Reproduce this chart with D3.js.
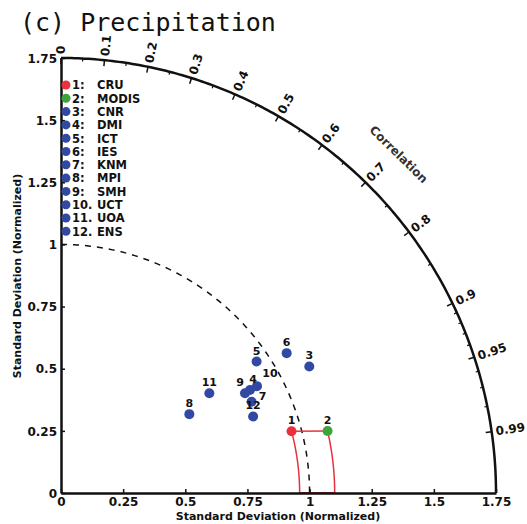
<!DOCTYPE html>
<html>
<head>
<meta charset="utf-8">
<script src="https://cdn.jsdelivr.net/npm/d3@7"></script>
<style>
  html, body { margin: 0; padding: 0; background: #fff; }
  svg { display: block; }
</style>
</head>
<body>
<svg id="chart" width="527" height="524"></svg>
<script>
// Taylor diagram: normalized standard deviation (radius) vs. correlation (angle)
const labels   = ["1","2","3","4","5","6","7","8","9","10","11","12"];
const names    = ["CRU","MODIS","CNR","DMI","ICT","IES","KNM","MPI","SMH","UCT","UOA","ENS"];
const stdDev   = [0.960, 1.101, 1.121, 0.866, 0.948, 1.068, 0.850, 0.606, 0.842, 0.898, 0.719, 0.832];
const corr     = [0.966, 0.974, 0.891, 0.878, 0.830, 0.850, 0.902, 0.852, 0.879, 0.878, 0.830, 0.929];
const groups   = ["obs1","obs2","rcm","rcm","rcm","rcm","rcm","rcm","rcm","rcm","rcm","rcm"];
const stdTicks  = [0, 0.25, 0.5, 0.75, 1, 1.25, 1.5, 1.75];
const stdTickLabels = ["0", "0.25", "0.5", "0.75", "1", "1.25", "1.5", "1.75"];
const corrTicks = [0, 0.1, 0.2, 0.3, 0.4, 0.5, 0.6, 0.7, 0.8, 0.9, 0.95, 0.99];
const corrMinor = [0.05, 0.15, 0.25, 0.35, 0.45, 0.55, 0.65, 0.75, 0.85, 0.91, 0.92, 0.93, 0.94, 0.96, 0.97, 0.98];

const colors = { obs1: "#e8313c", obs2: "#3da33f", rcm: "#3249a3" };
const maxStd = 1.75;

const svg = d3.select("#chart");
const x = d3.scaleLinear().domain([0, maxStd]).range([61, 496]);
const y = d3.scaleLinear().domain([0, maxStd]).range([493, 58]);
const unit = x(1) - x(0);

const polar = (s, c) => [x(s * c), y(s * Math.sqrt(Math.max(0, 1 - c * c)))];
const arcPath = (r, c0, c1, n = 120) => {
  const a0 = Math.acos(c0), a1 = Math.acos(c1);
  const pts = d3.range(n + 1).map(i => {
    const a = a0 + (a1 - a0) * i / n;
    return [x(r * Math.cos(a)), y(r * Math.sin(a))];
  });
  return d3.line()(pts);
};

// Title
svg.append("text")
  .attr("x", 20).attr("y", 31)
  .attr("font-family", "DejaVu Sans Mono").attr("font-size", 25)
  .attr("fill", "#111")
  .text("(c) Precipitation");

// Reference standard deviation (dashed quarter circle at 1)
svg.append("path")
  .attr("d", arcPath(1, 0, 1))
  .attr("fill", "none").attr("stroke", "#111")
  .attr("stroke-width", 1.5).attr("stroke-dasharray", "6,6");

// Observational range: arcs of each observation's std down to the x axis
const obsPts = [0, 1].map(i => polar(stdDev[i], corr[i]));
[0, 1].forEach(i => {
  svg.append("path")
    .attr("d", arcPath(stdDev[i], corr[i], 1, 40))
    .attr("fill", "none").attr("stroke", colors.obs1).attr("stroke-width", 1.5);
});
svg.append("path")
  .attr("d", d3.line()([obsPts[0], obsPts[1]]))
  .attr("fill", "none").attr("stroke", colors.obs1).attr("stroke-width", 1.5);
svg.append("path")
  .attr("d", d3.line()([[x(stdDev[0]), y(0)], [x(stdDev[1]), y(0)]]))
  .attr("fill", "none").attr("stroke", colors.obs1).attr("stroke-width", 2);

// Axes
const fmt = d => stdTickLabels[stdTicks.indexOf(d)];
const xAxis = svg.append("g")
  .attr("transform", `translate(0,${y(0)})`)
  .call(d3.axisBottom(x).tickValues(stdTicks).tickFormat(fmt).tickSizeInner(-4).tickSizeOuter(0).tickPadding(6));
const yAxis = svg.append("g")
  .attr("transform", `translate(${x(0)},0)`)
  .call(d3.axisLeft(y).tickValues(stdTicks).tickFormat(fmt).tickSizeInner(-4).tickSizeOuter(0).tickPadding(4));
[xAxis, yAxis].forEach(g => {
  g.select(".domain").attr("stroke", "#111").attr("stroke-width", 2.5);
  g.selectAll(".tick line").attr("stroke", "#111").attr("stroke-width", 1.5);
  g.selectAll(".tick text")
    .attr("font-family", "DejaVu Sans").attr("font-weight", "bold")
    .attr("font-size", 12).attr("fill", "#111");
});
xAxis.selectAll(".tick text").attr("dy", "0.6em");
yAxis.selectAll(".tick text").attr("dy", "0.35em");

// Outer arc at maximum std
svg.append("path")
  .attr("d", arcPath(maxStd, 0, 1, 200))
  .attr("fill", "none").attr("stroke", "#111").attr("stroke-width", 2.5);

// Correlation ticks and labels
const rpx = maxStd * unit;
corrTicks.forEach(c => {
  const a = Math.acos(c);
  const [x0, y0] = [x(0) + rpx * Math.cos(a), y(0) - rpx * Math.sin(a)];
  svg.append("line")
    .attr("x1", x0).attr("y1", y0)
    .attr("x2", x0 - 6 * Math.cos(a)).attr("y2", y0 + 6 * Math.sin(a))
    .attr("stroke", "#111").attr("stroke-width", 1.5);
  const lx = x(0) + (rpx + 4) * Math.cos(a), ly = y(0) - (rpx + 4) * Math.sin(a);
  svg.append("text")
    .attr("transform", `translate(${lx},${ly}) rotate(${-a * 180 / Math.PI})`)
    .attr("dy", "0.35em")
    .attr("font-family", "DejaVu Sans").attr("font-weight", "bold")
    .attr("font-size", 12).attr("fill", "#111")
    .text(String(c));
});
corrMinor.forEach(c => {
  const a = Math.acos(c);
  const [x0, y0] = [x(0) + rpx * Math.cos(a), y(0) - rpx * Math.sin(a)];
  svg.append("line")
    .attr("x1", x0).attr("y1", y0)
    .attr("x2", x0 - 3 * Math.cos(a)).attr("y2", y0 + 3 * Math.sin(a))
    .attr("stroke", "#111").attr("stroke-width", 1.2);
});

// "Correlation" caption along the arc
{
  const a = Math.acos(0.70), r = 1.93 * unit;
  const cx = x(0) + r * Math.cos(a) + 2, cy = y(0) - r * Math.sin(a) + 4;
  svg.append("text")
    .attr("transform", `translate(${cx},${cy}) rotate(${90 - a * 180 / Math.PI})`)
    .attr("text-anchor", "middle").attr("dy", "0.35em")
    .attr("font-family", "DejaVu Sans").attr("font-weight", "bold")
    .attr("font-size", 12).attr("fill", "#333")
    .text("Correlation");
}

// Axis titles
svg.append("text")
  .attr("x", 278).attr("y", 520).attr("text-anchor", "middle")
  .attr("font-family", "DejaVu Sans").attr("font-weight", "bold")
  .attr("font-size", 11).attr("fill", "#111")
  .text("Standard Deviation (Normalized)");
svg.append("text")
  .attr("transform", "translate(21,276) rotate(-90)").attr("text-anchor", "middle")
  .attr("font-family", "DejaVu Sans").attr("font-weight", "bold")
  .attr("font-size", 11).attr("fill", "#111")
  .text("Standard Deviation (Normalized)");

// Points with number labels (a few nudged apart in the crowded cluster)
const nudge = { "4": [3, 0], "9": [-5, 0], "10": [13, -2], "7": [11, 5] };
const pts = labels.map((l, i) => ({ l, g: groups[i], p: polar(stdDev[i], corr[i]) }));
svg.append("g").selectAll("circle").data(pts).join("circle")
  .attr("cx", d => d.p[0]).attr("cy", d => d.p[1]).attr("r", 5)
  .attr("fill", d => colors[d.g]);
svg.append("g").selectAll("text").data(pts).join("text")
  .attr("x", d => d.p[0] + (nudge[d.l] ? nudge[d.l][0] : 0))
  .attr("y", d => d.p[1] - 7 + (nudge[d.l] ? nudge[d.l][1] : 0))
  .attr("text-anchor", "middle")
  .attr("font-family", "DejaVu Sans").attr("font-weight", "bold")
  .attr("font-size", 11).attr("fill", "#111")
  .text(d => d.l);

// Legend
const leg = svg.append("g");
labels.forEach((l, i) => {
  const yy = 85 + i * 13.3;
  leg.append("circle").attr("cx", 66).attr("cy", yy).attr("r", 4.5).attr("fill", colors[groups[i]]);
  leg.append("text").attr("x", 72).attr("y", yy).attr("dy", "0.38em")
    .attr("font-family", "DejaVu Sans").attr("font-weight", "bold")
    .attr("font-size", 11.5).attr("fill", "#111")
    .text(l + (i < 9 ? ":" : "."));
  leg.append("text").attr("x", 97).attr("y", yy).attr("dy", "0.38em")
    .attr("font-family", "DejaVu Sans").attr("font-weight", "bold")
    .attr("font-size", 11.5).attr("fill", "#111")
    .text(names[i]);
});
</script>
</body>
</html>
